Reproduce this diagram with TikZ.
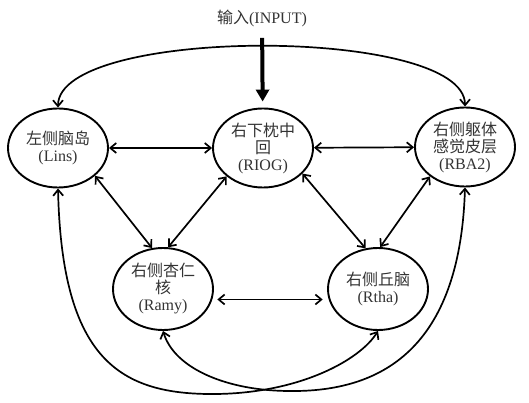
\documentclass[tikz,border=0pt]{standalone}
\usepackage{fontspec}
\setmainfont{Liberation Serif}
\newfontfamily\cjk{Noto Sans CJK SC}
\usepackage{tikz}
\usetikzlibrary{arrows.meta,shapes.geometric}

\begin{document}
\begin{tikzpicture}[x=1pt,y=-1pt,
    region/.style={draw,ellipse,line width=1.9pt,minimum width=100pt,minimum height=79pt,inner sep=0pt,align=center,text=black!80,font=\fontsize{16}{17}\selectfont},
    link/.style={line width=1.7pt,{Straight Barb[length=6pt,width=10pt]}-{Straight Barb[length=6pt,width=10pt]}}]

    \useasboundingbox (0,0) rectangle (529,403);

    \node [text=black!80,font=\fontsize{16}{17}\selectfont] (input) at (262,18) {{\cjk 输入}(INPUT)};
    \node [region] (Lins) at (58,148) {{\cjk 左侧脑岛}\\(Lins)};
    \node [region] (RIOG) at (263,148) {{\cjk 右下枕中}\\{\cjk 回}\\(RIOG)};
    \node [region] (RBA2) at (465,147) {{\cjk 右侧躯体}\\{\cjk 感觉皮层}\\(RBA2)};
    \node [region,minimum height=82pt] (Ramy) at (163,289) {{\cjk 右侧杏仁}\\{\cjk 核}\\(Ramy)};
    \node [region,minimum height=82pt] (Rtha) at (378,289) {{\cjk 右侧丘脑}\\(Rtha)};
    \coordinate (lowL) at (216,394);
    \coordinate (lowR) at (290,391);

    % input
    \draw [line width=4pt,-{Triangle[length=12pt,width=13pt]},shorten <=8pt,shorten >=6pt] (input) -- (RIOG);

    \draw [link] (Lins) -- (RIOG);
    \draw [link] (RIOG) -- (RBA2);
    \draw [link] (Lins.-37) -- (Ramy.105);
    \draw [link] (RIOG.-142) -- (Ramy.83);
    \draw [link] (RIOG.-33) -- (Rtha.107);
    \draw [link] (RBA2.-140) -- (Rtha.87);
    \draw [link,shorten <=5pt,shorten >=6pt] (Ramy.-12) -- (Rtha.-168);
    \draw [link] (Lins.north) .. controls (58,26) and (465,26) .. (RBA2.north);
    \draw [link] (Lins.south) .. controls (62,360) and (120,395) .. (lowL) .. controls (300,393) and (360,360) .. (Rtha.south);
    \draw [link] (RBA2.south) .. controls (460,350) and (380,392) .. (lowR) .. controls (230,391) and (175,370) .. (Ramy.south);
\end{tikzpicture}
\end{document}
